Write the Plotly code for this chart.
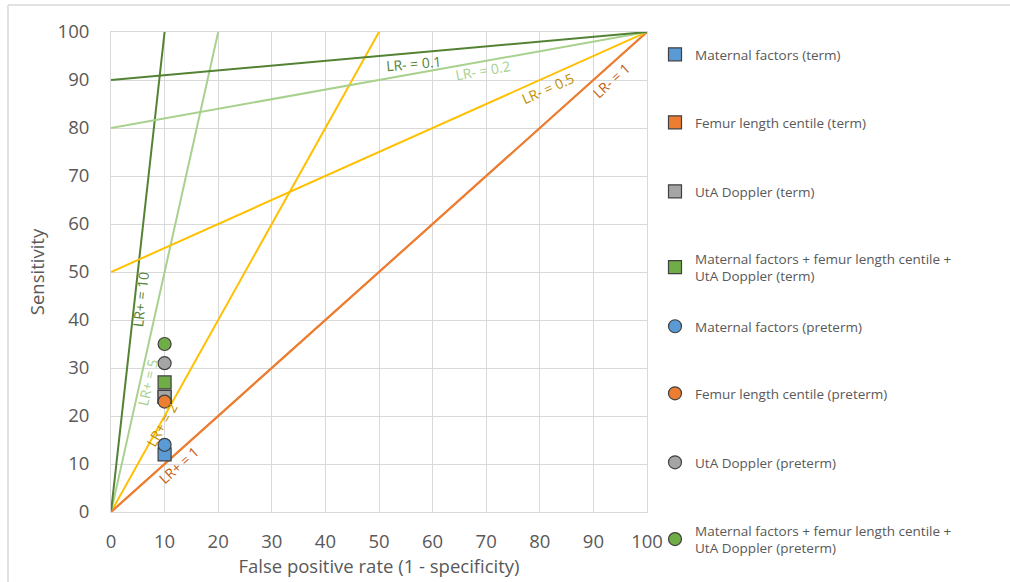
import plotly.graph_objects as go

# Reference lines (likelihood ratios)
lr_pos = [1, 2, 5, 10]
lr_neg = [1, 0.5, 0.2, 0.1]
lr_colors = ["#ED7D31", "#FFC000", "#A9D18E", "#548235"]
lr_text_colors = ["#C55A11", "#BF9000", "#A9D18E", "#548235"]

# Data points: false positive rate fixed at 10%
series_names = [
    "Maternal factors (term)",
    "Femur length centile (term)",
    "UtA Doppler (term)",
    "Maternal factors + femur length centile +<br>UtA Doppler (term)",
    "Maternal factors (preterm)",
    "Femur length centile (preterm)",
    "UtA Doppler (preterm)",
    "Maternal factors + femur length centile +<br>UtA Doppler (preterm)",
]
fpr = [10, 10, 10, 10, 10, 10, 10, 10]
sensitivity = [12, 24, 24, 27, 14, 23, 31, 35]
symbols = ["square"] * 4 + ["circle"] * 4
colors = ["#5B9BD5", "#ED7D31", "#A5A5A5", "#70AD47"] * 2

W, H = 1010, 582
L, R, T, B = 111, 647, 32, 512

fig = go.Figure()

# LR+ lines from origin
for lr, c in zip(lr_pos, lr_colors):
    xe = min(100, 100 / lr)
    fig.add_trace(go.Scatter(x=[0, xe], y=[0, lr * xe], mode="lines",
                             line=dict(color=c, width=2), showlegend=False,
                             hoverinfo="skip"))
# LR- lines to (100,100)
for lr, c in zip(lr_neg, lr_colors):
    fig.add_trace(go.Scatter(x=[0, 100], y=[100 * (1 - lr), 100], mode="lines",
                             line=dict(color=c, width=2), showlegend=False,
                             hoverinfo="skip"))

legend_y_px = [55, 123, 192, 259, 327, 394, 463, 531]
for i, (n, x, y, s, c) in enumerate(zip(series_names, fpr, sensitivity, symbols, colors)):
    lname = "legend" if i == 0 else f"legend{i+1}"
    fig.add_trace(go.Scatter(x=[x], y=[y], mode="markers", name=n,
                             marker=dict(symbol=s, color=c, size=13,
                                         line=dict(color="#404040", width=1.2)),
                             legend=lname))

legend_common = dict(font=dict(family="Open Sans", size=13.5, color="#595959"),
                     bgcolor="rgba(0,0,0,0)", xanchor="left", yanchor="top",
                     itemwidth=30, tracegroupgap=0)
layout_legends = {}
for i, py in enumerate(legend_y_px):
    lname = "legend" if i == 0 else f"legend{i+1}"
    layout_legends[lname] = dict(legend_common, x=(655 - L) / (R - L),
                                 y=(B - (py - 16)) / (B - T))

def px_to_data(px, py):
    return (px - L) / (R - L) * 100, (B - py) / (B - T) * 100

labels = [
    ("LR- = 0.1", 413, 63, -5, lr_text_colors[3]),
    ("LR- = 0.2", 482, 70, -10, lr_text_colors[2]),
    ("LR- = 0.5", 547, 88, -24, lr_text_colors[1]),
    ("LR- = 1", 611, 80, -42, lr_text_colors[0]),
    ("LR+ = 10", 140, 300, -83.6, lr_text_colors[3]),
    ("LR+ = 5", 147, 383, -77.4, lr_text_colors[2]),
    ("LR+ = 2", 161, 425, -60.8, lr_text_colors[1]),
    ("LR+ = 1", 178, 465, -41.8, lr_text_colors[0]),
]
annotations = []
for t, px, py, ang, c in labels:
    ax, ay = px_to_data(px, py)
    annotations.append(dict(x=ax, y=ay, xref="x", yref="y", text=t, showarrow=False,
                            textangle=ang, font=dict(family="Open Sans", size=14, color=c)))

fig.update_layout(
    width=W, height=H,
    margin=dict(l=L, r=W - R, t=T, b=H - B, pad=0),
    plot_bgcolor="white", paper_bgcolor="white",
    font=dict(family="Open Sans", color="#595959"),
    xaxis=dict(range=[0, 100], dtick=10, tick0=0, gridcolor="#D9D9D9", gridwidth=1,
               zeroline=False, showline=True, linecolor="#D9D9D9", mirror=True,
               ticks="outside", ticklen=13, tickcolor="rgba(0,0,0,0)",
               tickfont=dict(size=18.5, color="#595959"),
               title=dict(text="False positive rate (1 - specificity)",
                          font=dict(size=18.5, color="#595959"), standoff=4)),
    yaxis=dict(range=[0, 100], dtick=10, tick0=0, gridcolor="#D9D9D9", gridwidth=1,
               zeroline=False, showline=True, linecolor="#D9D9D9", mirror=True,
               ticks="outside", ticklen=17, tickcolor="rgba(0,0,0,0)",
               tickfont=dict(size=18.5, color="#595959"),
               title=dict(text="Sensitivity", font=dict(size=18.5, color="#595959"),
                          standoff=8)),
    annotations=annotations,
    shapes=[
        dict(type="line", xref="paper", yref="paper",
             x0=(8 - L) / (R - L), x1=(W - L) / (R - L),
             y0=(B - 5) / (B - T), y1=(B - 5) / (B - T),
             line=dict(color="#D9D9D9", width=1.5)),
        dict(type="line", xref="paper", yref="paper",
             x0=(8 - L) / (R - L), x1=(8 - L) / (R - L),
             y0=(B - 5) / (B - T), y1=(B - H) / (B - T),
             line=dict(color="#D9D9D9", width=1.5)),
    ],
    **layout_legends,
)

fig.write_html("out.html")
